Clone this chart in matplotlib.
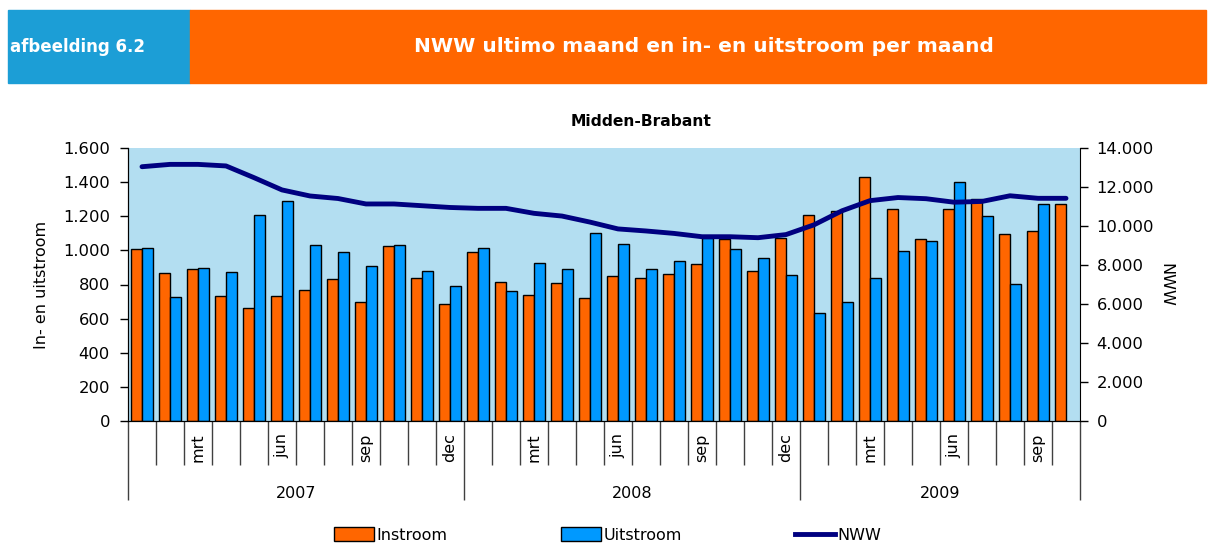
import numpy as np
import matplotlib.pyplot as plt
from matplotlib.patches import Rectangle, Patch
from matplotlib.lines import Line2D
from matplotlib.ticker import FuncFormatter

years = ['2007', '2008', '2009']
months = ['jan', 'feb', 'mrt', 'apr', 'mei', 'jun', 'jul', 'aug', 'sep', 'okt', 'nov', 'dec']
n_months = [12, 12, 10]
shown = ['mrt', 'jun', 'sep', 'dec']

instroom = [1010, 865, 890, 730, 665, 730, 768, 833, 697, 1024, 840, 688,
            993, 815, 737, 808, 720, 848, 840, 864, 919, 1065, 880, 1074,
            1208, 1232, 1431, 1241, 1064, 1241, 1303, 1097, 1113, 1270]
uitstroom = [1015, 728, 897, 872, 1208, 1289, 1033, 992, 911, 1031, 880, 791,
             1015, 760, 927, 888, 1104, 1039, 890, 937, 1075, 1010, 953, 856,
             633, 696, 840, 999, 1056, 1402, 1200, 801, 1270, np.nan]
nww = [13040, 13160, 13160, 13080, 12480, 11850, 11540, 11410, 11130, 11130, 11040, 10950,
       10905, 10905, 10650, 10510, 10200, 9850, 9745, 9620, 9450, 9450, 9400, 9560,
       10060, 10780, 11300, 11460, 11400, 11220, 11260, 11550, 11420, 11420]

W, H = 1208, 544
fig = plt.figure(figsize=(W / 100, H / 100), dpi=100)

def fx(px):
    return px / W

def fy(py):
    return 1 - py / H

# header bar
fig.patches.append(Rectangle((fx(8), fy(83)), fx(182), 73 / H, transform=fig.transFigure,
                             color='#1C9ED6', zorder=0))
fig.patches.append(Rectangle((fx(190), fy(83)), fx(1016), 73 / H, transform=fig.transFigure,
                             color='#FF6600', zorder=0))
fig.text(fx(10), fy(47), 'afbeelding 6.2', color='white', fontsize=12, fontweight='bold',
         ha='left', va='center')
fig.text(fx(704), fy(47), 'NWW ultimo maand en in- en uitstroom per maand', color='white',
         fontsize=14.5, fontweight='bold', ha='center', va='center')

ax = fig.add_axes([fx(128), fy(421), fx(952), 273 / H])
ax.set_facecolor('#B3DEF1')
x = np.arange(len(instroom))
bw = 0.41
ax.bar(x - bw / 2, instroom, bw, color='#FF6600', edgecolor='black', linewidth=1, zorder=2)
ax.bar(x + bw / 2, uitstroom, bw, color='#0099FF', edgecolor='black', linewidth=1, zorder=2)
ax.set_xlim(-0.5, len(x) - 0.5)
ax.set_ylim(0, 1600)
ax.set_yticks(np.arange(0, 1601, 200))
dot = FuncFormatter(lambda v, p: f'{int(v):,}'.replace(',', '.'))
ax.yaxis.set_major_formatter(dot)
ax.tick_params(axis='y', direction='out', length=6, width=1, pad=7, labelsize=11.8)
ax.set_ylabel('In- en uitstroom', fontsize=11.5, labelpad=10)
fig.text(fx(641), fy(121), 'Midden-Brabant', fontsize=11.2, fontweight='bold',
         ha='center', va='center')
for s in ['top', 'right']:
    ax.spines[s].set_visible(False)

# category axis: months and years
bounds = np.cumsum([0] + n_months) - 0.5
ax.set_xticks(bounds)
ax.set_xticklabels([])
ax.set_xticks(np.arange(len(x) + 1) - 0.5, minor=True)
ax.tick_params(axis='x', which='major', direction='out', length=57, width=1, color='#404040')
ax.tick_params(axis='x', which='minor', direction='out', length=32, width=1, color='#404040')
i = 0
for yr, n in zip(years, n_months):
    for m in range(n):
        if months[m] in shown:
            ax.annotate(months[m], xy=(i, 0), xycoords=('data', 'axes fraction'),
                        xytext=(0, -9), textcoords='offset points', rotation=90,
                        ha='center', va='top', fontsize=11.5)
        i += 1
for k, yr in enumerate(years):
    ax.annotate(yr, xy=((bounds[k] + bounds[k + 1]) / 2, 0), xycoords=('data', 'axes fraction'),
                xytext=(0, -52), textcoords='offset points', ha='center', va='center',
                fontsize=11.5)

ax2 = ax.twinx()
ax2.plot(x, nww, color='#000080', linewidth=3.5, solid_capstyle='round', zorder=3)
ax2.set_ylim(0, 14000)
ax2.set_yticks(np.arange(0, 14001, 2000))
ax2.yaxis.set_major_formatter(dot)
ax2.tick_params(axis='y', direction='out', length=6, width=1, pad=6, labelsize=11.8)
ax2.set_ylabel('NWW', rotation=270, fontsize=11.5, labelpad=14)
ax2.spines['top'].set_visible(False)

handles = [Patch(facecolor='#FF6600', edgecolor='black', linewidth=1),
           Patch(facecolor='#0099FF', edgecolor='black', linewidth=1),
           Line2D([0], [0], color='#000080', linewidth=3.5)]
fig.legend(handles, ['Instroom', 'Uitstroom', 'NWW'], loc='center', ncol=3,
           bbox_to_anchor=(fx(608), fy(535)), frameon=False, fontsize=11.5,
           handlelength=2.5, handleheight=0.9, handletextpad=0.15, columnspacing=7.1,
           borderpad=0)

fig.savefig('out.png', dpi=100)
